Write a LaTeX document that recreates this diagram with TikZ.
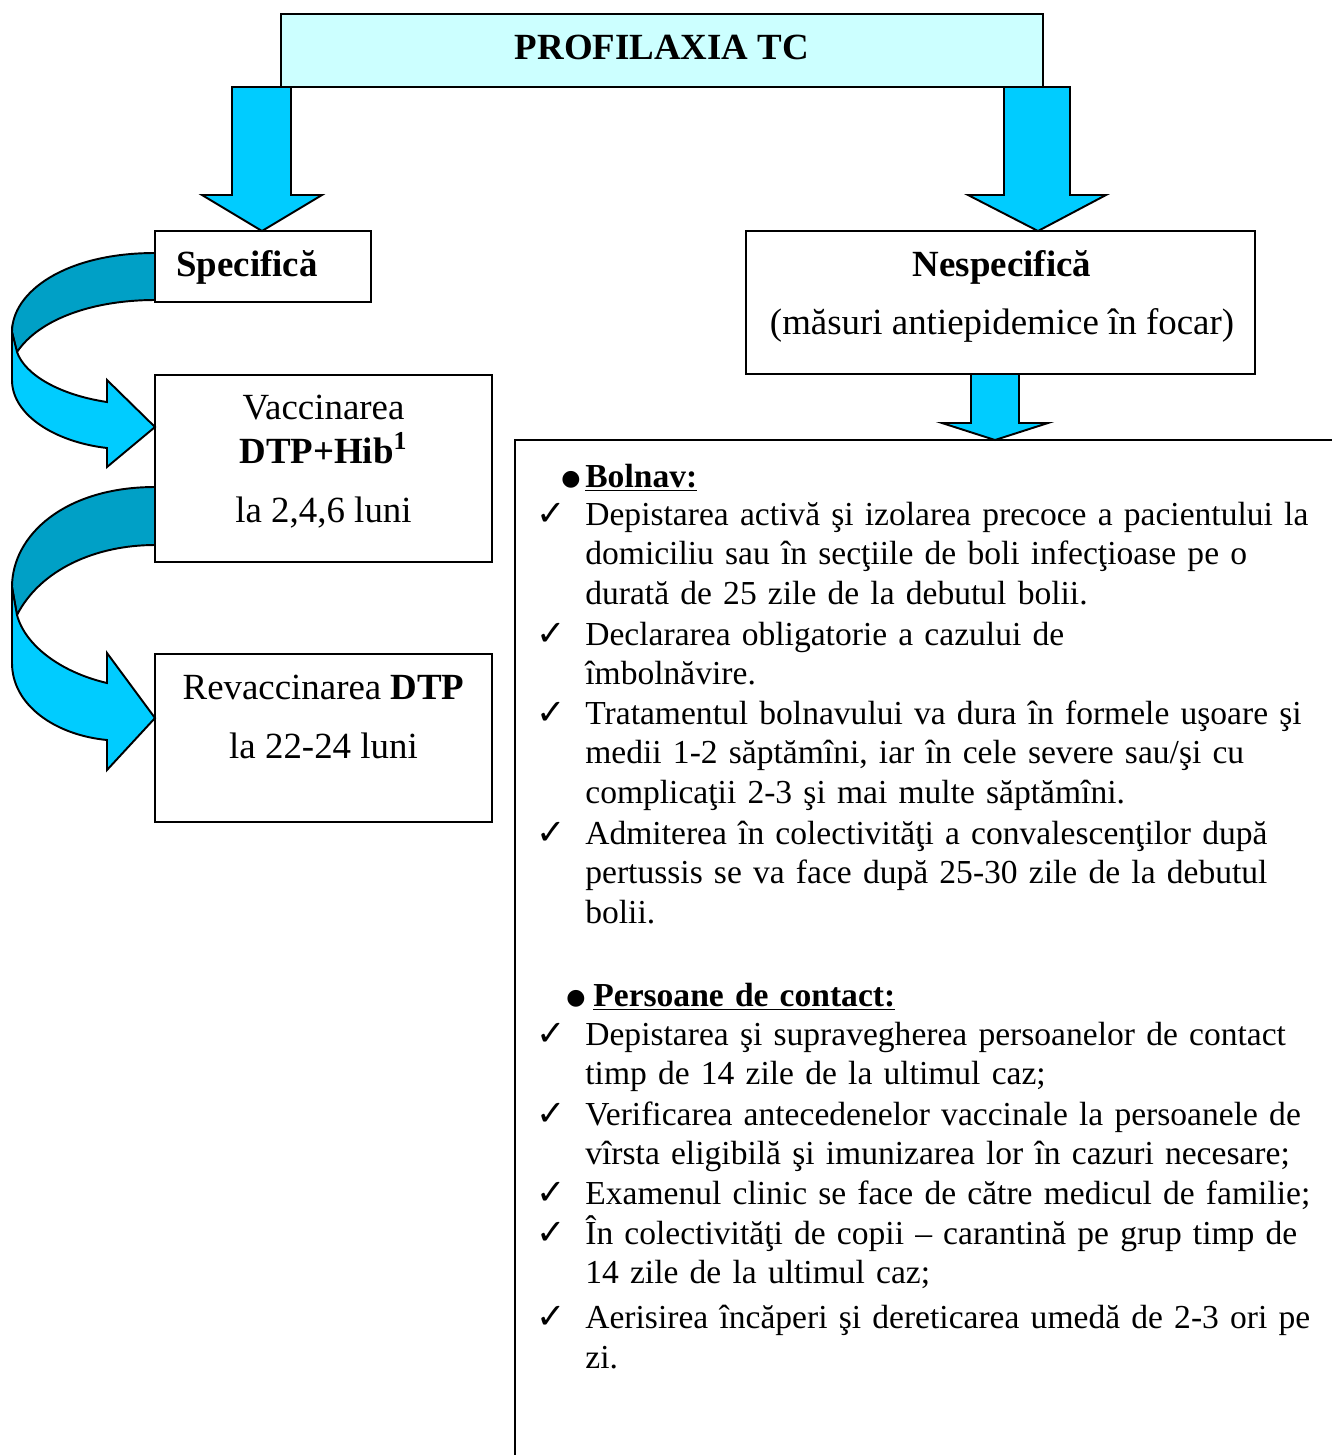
\documentclass[tikz,border=0pt]{standalone}
\usepackage{fontspec}
\setmainfont{Liberation Serif}
\newfontfamily\symfont{DejaVu Sans}

\definecolor{titlecyan}{RGB}{204,255,255}
\definecolor{arrowcyan}{RGB}{0,204,255}
\definecolor{ribbondark}{RGB}{0,160,198}

\tikzset{
  box/.style={draw, line width=1.1pt, inner sep=0pt},
  boxtext/.style={anchor=base, inner sep=0pt, font=\fontsize{21}{25}\selectfont},
  blockarrow/.style={draw, line width=1.1pt, fill=arrowcyan},
  ribbon/.style={draw, line width=1.1pt, fill=ribbondark},
  listtext/.style={anchor=base west, inner sep=0pt, text width=15.6cm, align=left,
    font=\fontsize{19.1}{22.7}\selectfont},
  chk/.style={anchor=base, inner sep=0pt, font=\symfont\fontsize{20}{22}\selectfont},
  dot/.style={anchor=base, inner sep=0pt, font=\symfont\fontsize{12.5}{14}\selectfont}
}

\begin{document}
\begin{tikzpicture}[x=0.02cm, y=-0.02cm]
    \useasboundingbox (0,0) rectangle (1332,1455);

    % Titlu
    \node[box, fill=titlecyan, minimum width=15.24cm, minimum height=1.46cm] (title) at (662,50.5) {};
    \node[boxtext, font=\bfseries\fontsize{21}{25}\selectfont] (titletext) at (662,59.5) {PROFILAXIA TC};

    % Sageti in jos
    \draw[blockarrow] (232,87) -- (291,87) -- (291,195) -- (322,195) -- (262,231)
        -- (202,195) -- (232,195) -- cycle;
    \draw[blockarrow] (1004,87) -- (1070,87) -- (1070,195) -- (1106,195) -- (1038,231)
        -- (968,195) -- (1004,195) -- cycle;

    % Specifica / Nespecifica
    \node[box, minimum width=4.32cm, minimum height=1.42cm] (spec) at (263,266.5) {};
    \node[boxtext, anchor=base west, font=\bfseries\fontsize{21}{25}\selectfont] (spectext) at (176,276) {Specifică};

    \node[box, minimum width=10.18cm, minimum height=2.86cm] (nespec) at (1000.5,302.5) {};
    \node[boxtext, font=\bfseries\fontsize{21}{25}\selectfont] (nespectext) at (1002,276) {Nespecifică};
    \node[boxtext] (masuri) at (1002,334) {(măsuri antiepidemice în focar)};

    % Vaccinare
    \node[box, minimum width=6.74cm, minimum height=3.74cm] (vacc) at (323.5,468.5) {};
    \node[boxtext] (vacc1) at (323.5,419) {Vaccinarea};
    \node[boxtext] (vacc2) at (323.5,463) {\textbf{DTP+Hib\textsuperscript{1}}};
    \node[boxtext] (vacc3) at (323.5,522) {la 2,4,6 luni};

    \node[box, minimum width=6.74cm, minimum height=3.36cm] (revacc) at (323.5,738) {};
    \node[boxtext] (revacc1) at (323.5,699) {Revaccinarea \textbf{DTP}};
    \node[boxtext] (revacc2) at (323.5,758) {la 22-24 luni};

    % Sageti curbe
    \draw[ribbon] (155,253) .. controls (65,253) and (12,292) .. (12,332) -- (17,352)
        .. controls (40,318) and (95,300) .. (155,300) -- cycle;
    \draw[blockarrow] (12,332) -- (12,380) .. controls (12,415) and (55,442) .. (107,448)
        -- (107,467) -- (155,427) -- (107,380) -- (107,402)
        .. controls (60,395) and (25,375) .. (17,352) -- cycle;

    \draw[ribbon] (155,487) .. controls (65,487) and (12,535) .. (12,587) -- (17,615)
        .. controls (40,570) and (95,545) .. (155,545) -- cycle;
    \draw[blockarrow] (12,587) -- (12,663) .. controls (12,705) and (55,735) .. (107,740)
        -- (107,770) -- (155,718) -- (107,653) -- (107,683)
        .. controls (60,672) and (25,645) .. (17,615) -- cycle;

    % Caseta mare
    \draw[line width=1.1pt] (515,1455) -- (515,440) -- (1332,440);
    \draw[blockarrow] (971,374) -- (1019,374) -- (1019,423) -- (1048,423) -- (995,440)
        -- (942,423) -- (971,423) -- cycle;

    % Bolnav
    \node[dot] (dotb) at (571,485) {●};
    \node[listtext] (bolnav) at (585,487) {\underline{\textbf{Bolnav:}}};
    \node[listtext] (b1) at (585,525) {Depistarea activă şi izolarea precoce a pacientului la\\domiciliu sau în secţiile de boli infecţioase pe o\\durată de 25 zile de la debutul bolii.};
    \node[listtext] (b2) at (585,645) {Declararea obligatorie a cazului de\\îmbolnăvire.};
    \node[listtext] (b3) at (585,724) {Tratamentul bolnavului va dura în formele uşoare şi\\medii 1-2 săptămîni, iar în cele severe sau/şi cu\\complicaţii 2-3 şi mai multe săptămîni.};
    \node[listtext] (b4) at (585,844) {Admiterea în colectivităţi a convalescenţilor după\\pertussis se va face după 25-30 zile de la debutul\\bolii.};

    % Persoane de contact
    \node[dot] (dotc) at (576,1004) {●};
    \node[listtext] (contact) at (593,1006) {\underline{\textbf{Persoane de contact:}}};
    \node[listtext] (c1) at (585,1045) {Depistarea şi supravegherea persoanelor de contact\\timp de 14 zile de la ultimul caz;};
    \node[listtext] (c2) at (585,1125) {Verificarea antecedenelor vaccinale la persoanele de\\vîrsta eligibilă şi imunizarea lor în cazuri necesare;};
    \node[listtext] (c3) at (585,1204) {Examenul clinic se face de către medicul de familie;};
    \node[listtext] (c4) at (585,1244) {În colectivităţi de copii – carantină pe grup timp de\\14 zile de la ultimul caz;};
    \node[listtext, font=\fontsize{19.1}{23.2}\selectfont] (c5) at (585,1328) {Aerisirea încăperi şi dereticarea umedă de 2-3 ori pe\\zi.};

    % Bife
    \foreach \n/\y in {b1/525, b2/645, b3/724, b4/844, c1/1045, c2/1125, c3/1204, c4/1244, c5/1328}
        \node[chk] (chk\n) at (551,\y) {✓};
\end{tikzpicture}
\end{document}
